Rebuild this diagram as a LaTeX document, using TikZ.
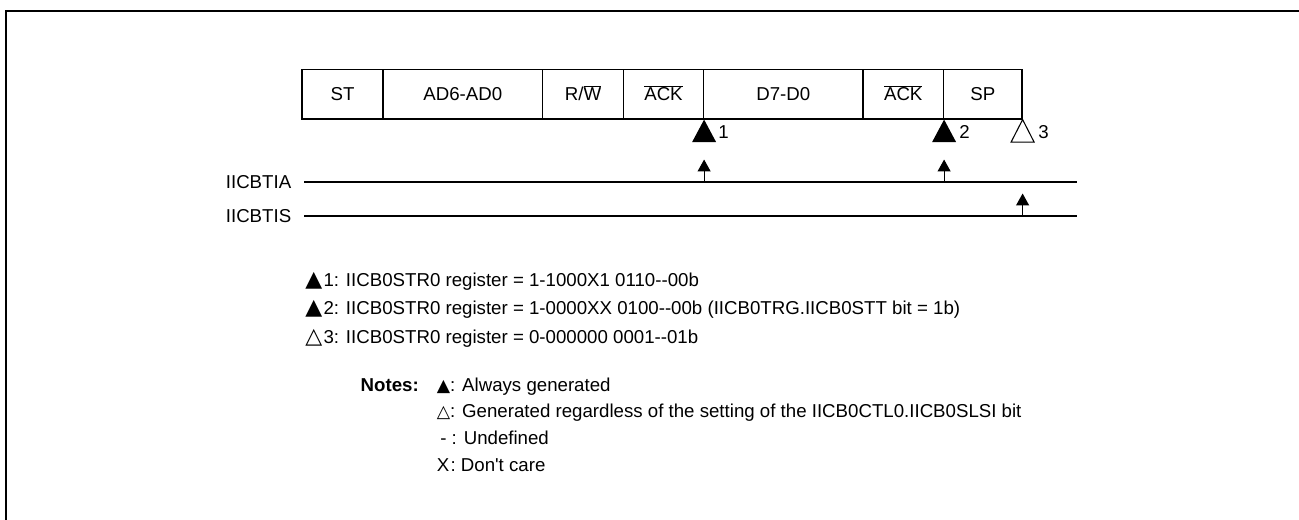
\documentclass[tikz,border=0pt]{standalone}
\usepackage{fontspec}
\setmainfont{Liberation Sans}[Ligatures=TeXOff]
\newfontfamily\symf{DejaVu Sans}
\usetikzlibrary{arrows.meta}
\newcommand{\bigtri}{{\symf\fontsize{16.5}{18}\selectfont ▲}}
\newcommand{\opentri}{{\symf\fontsize{16.5}{18}\selectfont △}}
\newcommand{\smtri}{{\symf\fontsize{13}{15}\selectfont ▲}}
\newcommand{\smopentri}{{\symf\fontsize{13}{15}\selectfont △}}
\begin{document}
\begin{tikzpicture}[x=0.75pt,y=-0.75pt,
  font=\fontsize{14}{17}\selectfont,
  cell/.style={draw,line width=0.9pt,inner sep=0pt,minimum height=49.5*0.75pt,text height=10pt,text depth=0pt},
  sig/.style={line width=0.9pt},
  evt/.style={line width=0.9pt,-{Triangle[length=9pt,width=9.75pt]}},
  txt/.style={inner sep=0pt,anchor=west},
  lgd/.style={inner sep=0pt,anchor=base west},
  evmark/.style={line width=0.8pt,line join=miter}]
\useasboundingbox (0,0) rectangle (1299,520);
\draw[line width=1.2pt] (6,520) -- (6,11) -- (1299,11);
% frame cells
\node[cell,minimum width=81*0.75pt]   (st)   at (342.5,94.25) {ST};
\node[cell,minimum width=159.5*0.75pt] (ad)  at (462.75,94.25) {AD6-AD0};
\node[cell,minimum width=81*0.75pt]   (rw)   at (583,94.25) {R/$\overline{\mbox{W}}$};
\node[cell,minimum width=80*0.75pt]   (ackA) at (663.5,94.25) {$\overline{\mbox{ACK}}$};
\node[cell,minimum width=159.5*0.75pt] (dd)  at (783.25,94.25) {D7-D0};
\node[cell,minimum width=80.5*0.75pt] (ackB) at (903.25,94.25) {$\overline{\mbox{ACK}}$};
\node[cell,minimum width=78.5*0.75pt] (sp)   at (982.75,94.25) {SP};
% event markers
\fill[evmark] (ackA.south east) -- ++(-12,22.5) -- ++(24,0) -- cycle;
\fill[evmark] (ackB.south east) -- ++(-12,22.5) -- ++(24,0) -- cycle;
\draw[evmark,fill=white] (sp.south east) -- ++(-11.5,22.5) -- ++(23,0) -- cycle;
\node[lgd] (n1) at (718,139) {1};
\node[lgd] (n2) at (959,139) {2};
\node[lgd] (n3) at (1038,139) {3};
% signal lines
\node[inner sep=0pt,anchor=base east] (tia) at (291.5,188.7) {IICBTIA};
\node[inner sep=0pt,anchor=base east] (tis) at (291.5,222.7) {IICBTIS};
\coordinate (tiaS) at (304,182);
\coordinate (tiaE) at (1077,182);
\coordinate (tisS) at (304,216);
\coordinate (tisE) at (1077,216);
\draw[sig] (tiaS) -- (tiaE);
\draw[sig] (tisS) -- (tisE);
\coordinate (e1) at (ackA.south east |- tiaS);
\coordinate (e2) at (ackB.south east |- tiaS);
\coordinate (e3) at (sp.south east |- tisS);
\draw[evt] (e1) -- ++(0,-22.5);
\draw[evt] (e2) -- ++(0,-22.5);
\draw[evt] (e3) -- ++(0,-22.5);
% legend
\node[lgd] (l1) at (305,286.5) {\bigtri\hspace{1pt}1: IICB0STR0 register = 1-1000X1 0110-{}-00b};
\node[lgd] (l2) at (305,315) {\bigtri\hspace{1pt}2: IICB0STR0 register = 1-0000XX 0100-{}-00b (IICB0TRG.IICB0STT bit = 1b)};
\node[lgd] (l3) at (305,344) {\opentri\hspace{1pt}3: IICB0STR0 register = 0-000000 0001-{}-01b};
% notes
\node[inner sep=0pt,anchor=base east,font=\fontsize{14}{17}\selectfont\bfseries] (notes) at (419,391) {Notes:};
\node[lgd] (k1) at (436.5,391) {\smtri: Always generated};
\node[lgd] (k2) at (436.5,417.7) {\smopentri: Generated regardless of the setting of the IICB0CTL0.IICB0SLSI bit};
\node[lgd] (k3) at (440,444.4) {- : Undefined};
\node[lgd] (k4) at (436.5,471) {X\hspace{1pt}: Don't care};
\end{tikzpicture}
\end{document}
